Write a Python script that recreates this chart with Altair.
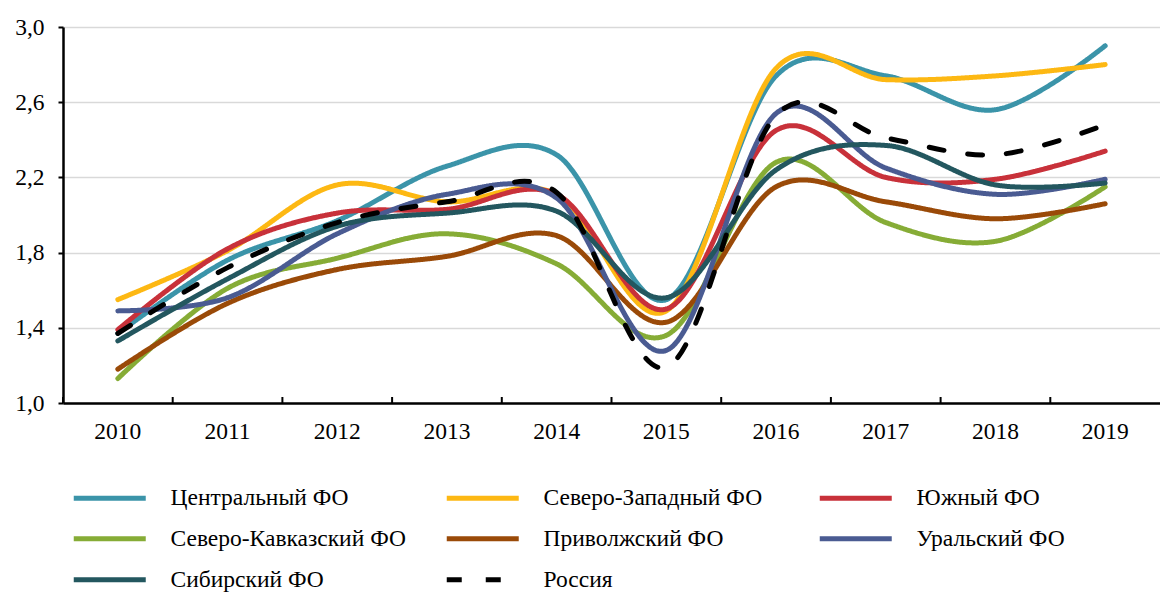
import altair as alt
import pandas as pd

years = ["2010", "2011", "2012", "2013", "2014", "2015", "2016", "2017", "2018", "2019"]
series_names = ["Центральный ФО", "Северо-Западный ФО", "Южный ФО",
                "Северо-Кавказский ФО", "Приволжский ФО", "Уральский ФО",
                "Сибирский ФО", "Россия"]
central = [1.37, 1.76, 1.97, 2.26, 2.32, 1.55, 2.74, 2.74, 2.56, 2.90]
northwest = [1.55, 1.81, 2.16, 2.07, 2.11, 1.49, 2.78, 2.72, 2.74, 2.80]
south = [1.39, 1.82, 2.01, 2.03, 2.11, 1.50, 2.45, 2.20, 2.19, 2.34]
north_caucasus = [1.13, 1.61, 1.77, 1.90, 1.74, 1.36, 2.28, 1.96, 1.86, 2.15]
volga = [1.18, 1.53, 1.71, 1.78, 1.89, 1.43, 2.15, 2.07, 1.98, 2.06]
ural = [1.49, 1.56, 1.90, 2.11, 2.09, 1.28, 2.54, 2.25, 2.11, 2.19]
siberia = [1.33, 1.66, 1.94, 2.01, 2.02, 1.56, 2.24, 2.37, 2.16, 2.17]
russia = [1.37, 1.72, 1.96, 2.07, 2.12, 1.19, 2.53, 2.41, 2.32, 2.48]
y_ticks = [1.0, 1.4, 1.8, 2.2, 2.6, 3.0]

series_values = [central, northwest, south, north_caucasus, volga, ural, siberia, russia]
colors = ["#3B94A9", "#FDB813", "#C8313A", "#86AC36", "#9A4A08", "#4A5B92", "#23575F", "#000000"]
dashes = [[1, 0]] * 7 + [[15, 24]]

rows = []
for i, (name, vals) in enumerate(zip(series_names, series_values)):
    for yr, v in zip(years, vals):
        rows.append({"series": name, "year": yr, "value": v, "order": i})
df = pd.DataFrame(rows)
ticks_df = pd.DataFrame({"year": years})

FONT = "Liberation Serif"
FS = 23.5

xscale = alt.Scale(type="band", domain=years, paddingInner=0, paddingOuter=0)
yscale = alt.Scale(domain=[1.0, 3.0], nice=False, zero=False)

legend = alt.Legend(
    title=None, orient="none", legendX=35, legendY=459, columns=3, direction="horizontal",
    symbolType="M-4,0H4", symbolSize=324, symbolStrokeWidth=5,
    labelFont=FONT, labelFontSize=FS, labelColor="black", labelOffset=49,
    columnPadding=30, rowPadding=16, gridAlign="all", labelLimit=400,
)

lines = alt.Chart(df).mark_line(interpolate="cardinal", strokeWidth=5, strokeCap="round").encode(
    x=alt.X("year:O", scale=xscale, bandPosition=0.5,
            axis=alt.Axis(title=None, labelAngle=0, ticks=False, grid=False,
                          domainColor="black", domainWidth=2.5, bandPosition=0.5,
                          labelFont=FONT, labelFontSize=FS, labelColor="black",
                          labelPadding=16)),
    y=alt.Y("value:Q", scale=yscale,
            axis=alt.Axis(title=None, values=y_ticks,
                          labelExpr="replace(format(datum.value, '.1f'), '.', ',')",
                          grid=True, gridColor="#D9D9D9", gridWidth=1.5,
                          domainColor="black", domainWidth=2.5,
                          tickColor="black", tickSize=5, tickWidth=2,
                          labelFont=FONT, labelFontSize=FS, labelColor="black",
                          labelPadding=14)),
    color=alt.Color("series:N", scale=alt.Scale(domain=series_names, range=colors),
                    sort=series_names, legend=legend),
    strokeDash=alt.StrokeDash("series:N", scale=alt.Scale(domain=series_names, range=dashes),
                              sort=series_names, legend=legend),
    order=alt.Order("order:Q"),
)

tick_rules = alt.Chart(ticks_df).mark_rule(color="black", strokeWidth=2).encode(
    x=alt.X("year:O", scale=xscale, bandPosition=0),
    y=alt.datum(1.0, scale=yscale),
    y2=alt.datum(1.032),
)

chart = alt.layer(lines, tick_rules).properties(
    width=1097, height=376,
    autosize=alt.AutoSizeParams(type="none"),
    padding={"left": 55, "top": 19, "right": 0, "bottom": 192},
).configure_view(stroke=None)

chart.save("out.html", embed_options={"renderer": "svg", "actions": False})
